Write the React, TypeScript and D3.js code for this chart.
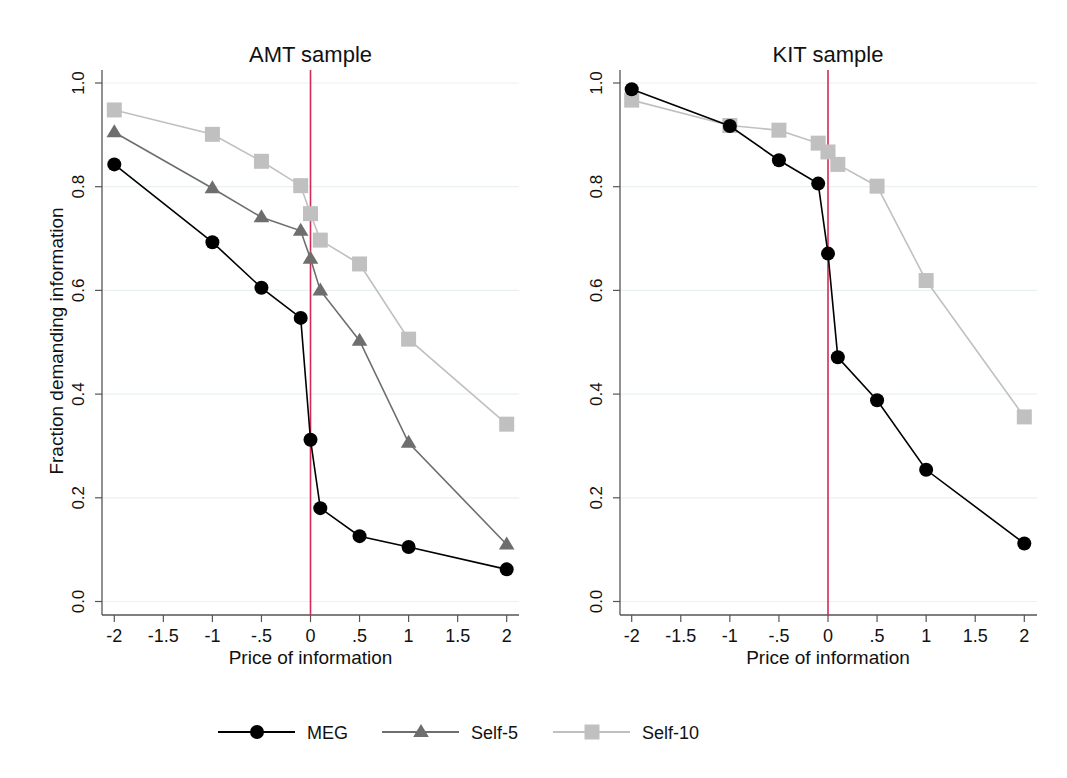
import React, { useEffect, useRef } from "react";
import * as d3 from "d3";

const prices = [-2, -1, -0.5, -0.1, 0, 0.1, 0.5, 1, 2];
const xTicks = [-2, -1.5, -1, -0.5, 0, 0.5, 1, 1.5, 2];
const yTicks = [0, 0.2, 0.4, 0.6, 0.8, 1.0];

const amtMEG = [0.843, 0.693, 0.605, 0.547, 0.312, 0.18, 0.126, 0.105, 0.062];
const amtSelf5 = [0.905, 0.797, 0.741, 0.715, 0.661, 0.6, 0.503, 0.306, 0.11];
const amtSelf10 = [0.948, 0.901, 0.849, 0.802, 0.748, 0.697, 0.651, 0.506, 0.342];

const kitMEG = [0.988, 0.917, 0.851, 0.806, 0.671, 0.471, 0.388, 0.254, 0.112];
const kitSelf10 = [0.967, 0.918, 0.909, 0.884, 0.867, 0.843, 0.801, 0.619, 0.356];

const seriesNames = ["MEG", "Self-5", "Self-10"];
const seriesColors = ["#000000", "#6e6e6e", "#c0c0c0"];
const seriesShapes = ["circle", "triangle", "square"];

const FONT = "'Liberation Sans', Arial, Helvetica, sans-serif";

function fmtX(v: number) {
  if (v === 0) return "0";
  const s = String(v);
  return s.replace(/^(-?)0\./, "$1.");
}

function drawMarker(g: any, shape: string, x: number, y: number, color: string) {
  if (shape === "circle") {
    g.append("circle").attr("cx", x).attr("cy", y).attr("r", 7).attr("fill", color);
  } else if (shape === "triangle") {
    g.append("path")
      .attr("d", `M${x},${y - 8}L${x + 7.8},${y + 5}L${x - 7.8},${y + 5}Z`)
      .attr("fill", color);
  } else {
    const s = 15;
    g.append("rect").attr("x", x - s / 2).attr("y", y - s / 2).attr("width", s).attr("height", s).attr("fill", color);
  }
}

export default function App() {
  const ref = useRef<SVGSVGElement>(null);

  useEffect(() => {
    const svg = d3.select(ref.current);
    svg.selectAll("*").remove();
    svg.append("rect").attr("width", 1067).attr("height", 778).attr("fill", "#ffffff");

    const panels = [
      { title: "AMT sample", left: 102, x0: 114.3, x1: 506.7, right: 519, series: [amtMEG, amtSelf5, amtSelf10], showYLabel: true },
      { title: "KIT sample", left: 620, x0: 631.7, x1: 1024.3, right: 1037, series: [kitMEG, null, kitSelf10], showYLabel: false },
    ];

    const yTop = 70;
    const xAxisY = 615;
    const y = d3.scaleLinear().domain([0, 1]).range([601.5, 83]);

    panels.forEach((p) => {
      const x = d3.scaleLinear().domain([-2, 2]).range([p.x0, p.x1]);
      const g = svg.append("g");

      // gridlines
      yTicks.forEach((t) => {
        g.append("line")
          .attr("x1", p.left).attr("x2", p.right)
          .attr("y1", y(t)).attr("y2", y(t))
          .attr("stroke", "#eaf1f3").attr("stroke-width", 1.2);
      });

      // axes
      g.append("line").attr("x1", p.left).attr("x2", p.left).attr("y1", yTop).attr("y2", xAxisY)
        .attr("stroke", "#555").attr("stroke-width", 1.3);
      g.append("line").attr("x1", p.left).attr("x2", p.right).attr("y1", xAxisY).attr("y2", xAxisY)
        .attr("stroke", "#555").attr("stroke-width", 1.3);

      yTicks.forEach((t) => {
        g.append("line").attr("x1", p.left - 7).attr("x2", p.left).attr("y1", y(t)).attr("y2", y(t))
          .attr("stroke", "#555").attr("stroke-width", 1.2);
        g.append("text")
          .attr("transform", `translate(${p.left - 18},${y(t)}) rotate(-90)`)
          .attr("text-anchor", "middle")
          .attr("font-family", FONT).attr("font-size", 17).attr("fill", "#111")
          .text(t.toFixed(1));
      });

      xTicks.forEach((t) => {
        g.append("line").attr("x1", x(t)).attr("x2", x(t)).attr("y1", xAxisY).attr("y2", xAxisY + 7)
          .attr("stroke", "#555").attr("stroke-width", 1.2);
        g.append("text")
          .attr("x", x(t)).attr("y", xAxisY + 27)
          .attr("text-anchor", "middle")
          .attr("font-family", FONT).attr("font-size", 18).attr("fill", "#111")
          .text(fmtX(t));
      });

      g.append("text")
        .attr("x", x(0)).attr("y", xAxisY + 49)
        .attr("text-anchor", "middle")
        .attr("font-family", FONT).attr("font-size", 19).attr("fill", "#111")
        .text("Price of information");

      g.append("text")
        .attr("x", x(0)).attr("y", 62)
        .attr("text-anchor", "middle")
        .attr("font-family", FONT).attr("font-size", 22).attr("fill", "#111")
        .text(p.title);

      if (p.showYLabel) {
        g.append("text")
          .attr("transform", `translate(63,341) rotate(-90)`)
          .attr("text-anchor", "middle")
          .attr("font-family", FONT).attr("font-size", 19).attr("fill", "#111")
          .text("Fraction demanding information");
      }

      // reference line at zero price
      g.append("line").attr("x1", x(0)).attr("x2", x(0)).attr("y1", yTop).attr("y2", xAxisY)
        .attr("stroke", "#d42a57").attr("stroke-width", 1.6);

      // series drawn back to front
      const line = d3.line<number>().x((_, i) => x(prices[i])).y((d) => y(d));
      [2, 1, 0].forEach((si) => {
        const vals = p.series[si];
        if (!vals) return;
        g.append("path").attr("d", line(vals)).attr("fill", "none")
          .attr("stroke", seriesColors[si]).attr("stroke-width", 1.6);
        vals.forEach((v, i) => drawMarker(g, seriesShapes[si], x(prices[i]), y(v), seriesColors[si]));
      });
    });

    // legend
    const legend = svg.append("g");
    const legendX = [218, 382, 553];
    const ly = 732;
    seriesNames.forEach((name, i) => {
      const lx = legendX[i];
      legend.append("line").attr("x1", lx).attr("x2", lx + 77).attr("y1", ly).attr("y2", ly)
        .attr("stroke", seriesColors[i]).attr("stroke-width", 1.8);
      drawMarker(legend, seriesShapes[i], lx + 39, ly, seriesColors[i]);
      legend.append("text").attr("x", lx + 89).attr("y", ly + 7)
        .attr("font-family", FONT).attr("font-size", 18).attr("fill", "#111")
        .text(name);
    });
  }, []);

  return (
    <svg ref={ref} width={1067} height={778} style={{ display: "block", position: "absolute", left: 0, top: 0 }} />
  );
}
